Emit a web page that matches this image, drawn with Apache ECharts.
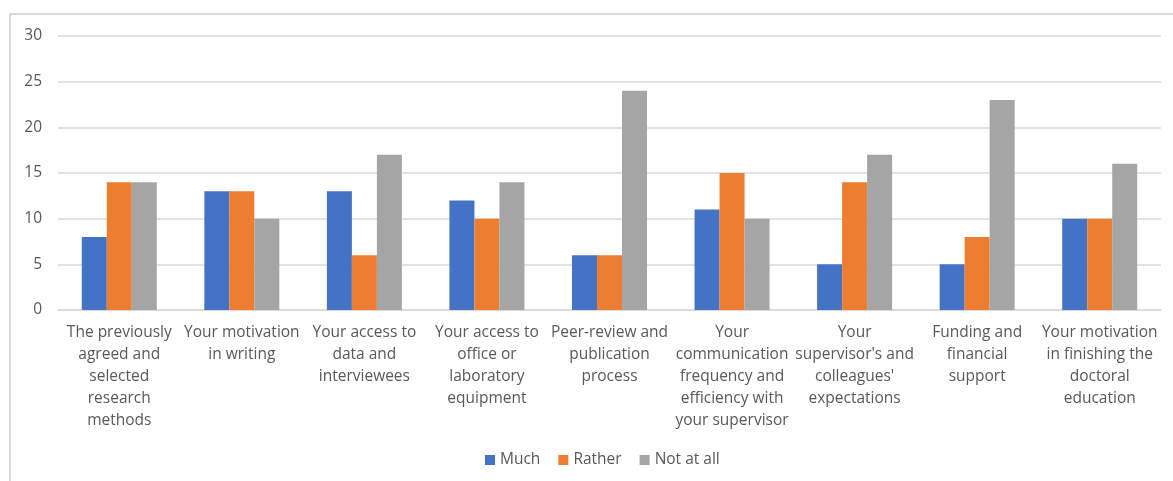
<!DOCTYPE html>
<html>
<head>
<meta charset="utf-8">
<script src="https://cdn.jsdelivr.net/npm/echarts@6/dist/echarts.min.js"></script>
<style>
  html, body { margin: 0; padding: 0; background: #fff; }
  #chart { width: 1173px; height: 481px; }
</style>
</head>
<body>
<div id="chart"></div>
<script>
var categories = [
    'The previously\nagreed and\nselected\nresearch\nmethods',
    'Your motivation\nin writing',
    'Your access to\ndata and\ninterviewees',
    'Your access to\noffice or\nlaboratory\nequipment',
    'Peer-review and\npublication\nprocess',
    'Your\ncommunication\nfrequency and\nefficiency with\nyour supervisor',
    'Your\nsupervisor\'s and\ncolleagues\'\nexpectations',
    'Funding and\nfinancial\nsupport',
    'Your motivation\nin finishing the\ndoctoral\neducation'
];
var much = [8, 13, 13, 12, 6, 11, 5, 5, 10];
var rather = [14, 13, 6, 10, 6, 15, 14, 8, 10];
var notAtAll = [14, 10, 17, 14, 24, 10, 17, 23, 16];

var chart = echarts.init(document.getElementById('chart'));

var option = {
    backgroundColor: '#fff',
    textStyle: { fontFamily: 'Open Sans, Noto Sans, sans-serif' },
    // thin frame round the chart (top and left only, like the screenshot)
    graphic: [{
        type: 'polyline',
        shape: { points: [[1173, 14], [10, 14], [10, 481]] },
        style: { stroke: '#d9d9d9', lineWidth: 2, fill: null },
        silent: true
    }],
    legend: {
        bottom: 8,
        left: 480,
        itemWidth: 10,
        itemHeight: 10,
        itemGap: 18,
        icon: 'rect',
        textStyle: { color: '#595959', fontSize: 15.5 },
        data: ['Much', 'Rather', 'Not at all']
    },
    grid: {
        left: 58,
        right: 12,
        top: 36,
        bottom: 171,
        containLabel: false
    },
    xAxis: {
        type: 'category',
        data: categories,
        axisTick: { show: false },
        axisLine: { lineStyle: { color: '#d9d9d9', width: 1.5 } },
        axisLabel: {
            interval: 0,
            color: '#595959',
            fontSize: 15.5,
            lineHeight: 22,
            margin: 12
        }
    },
    yAxis: {
        type: 'value',
        min: 0,
        max: 30,
        interval: 5,
        axisLine: { show: false },
        axisTick: { show: false },
        axisLabel: { color: '#595959', fontSize: 15.5, margin: 16 },
        splitLine: { lineStyle: { color: '#d9d9d9', width: 1.5 } }
    },
    series: [{
        name: 'Much',
        type: 'bar',
        data: much,
        barWidth: 25,
        barGap: '0%',
        barCategoryGap: '39%',
        itemStyle: { color: '#4472C4' }
    }, {
        name: 'Rather',
        type: 'bar',
        data: rather,
        barWidth: 25,
        barGap: '0%',
        itemStyle: { color: '#ED7D31' }
    }, {
        name: 'Not at all',
        type: 'bar',
        data: notAtAll,
        barWidth: 25,
        barGap: '0%',
        itemStyle: { color: '#A5A5A5' }
    }]
};

chart.setOption(option);
</script>
</body>
</html>
